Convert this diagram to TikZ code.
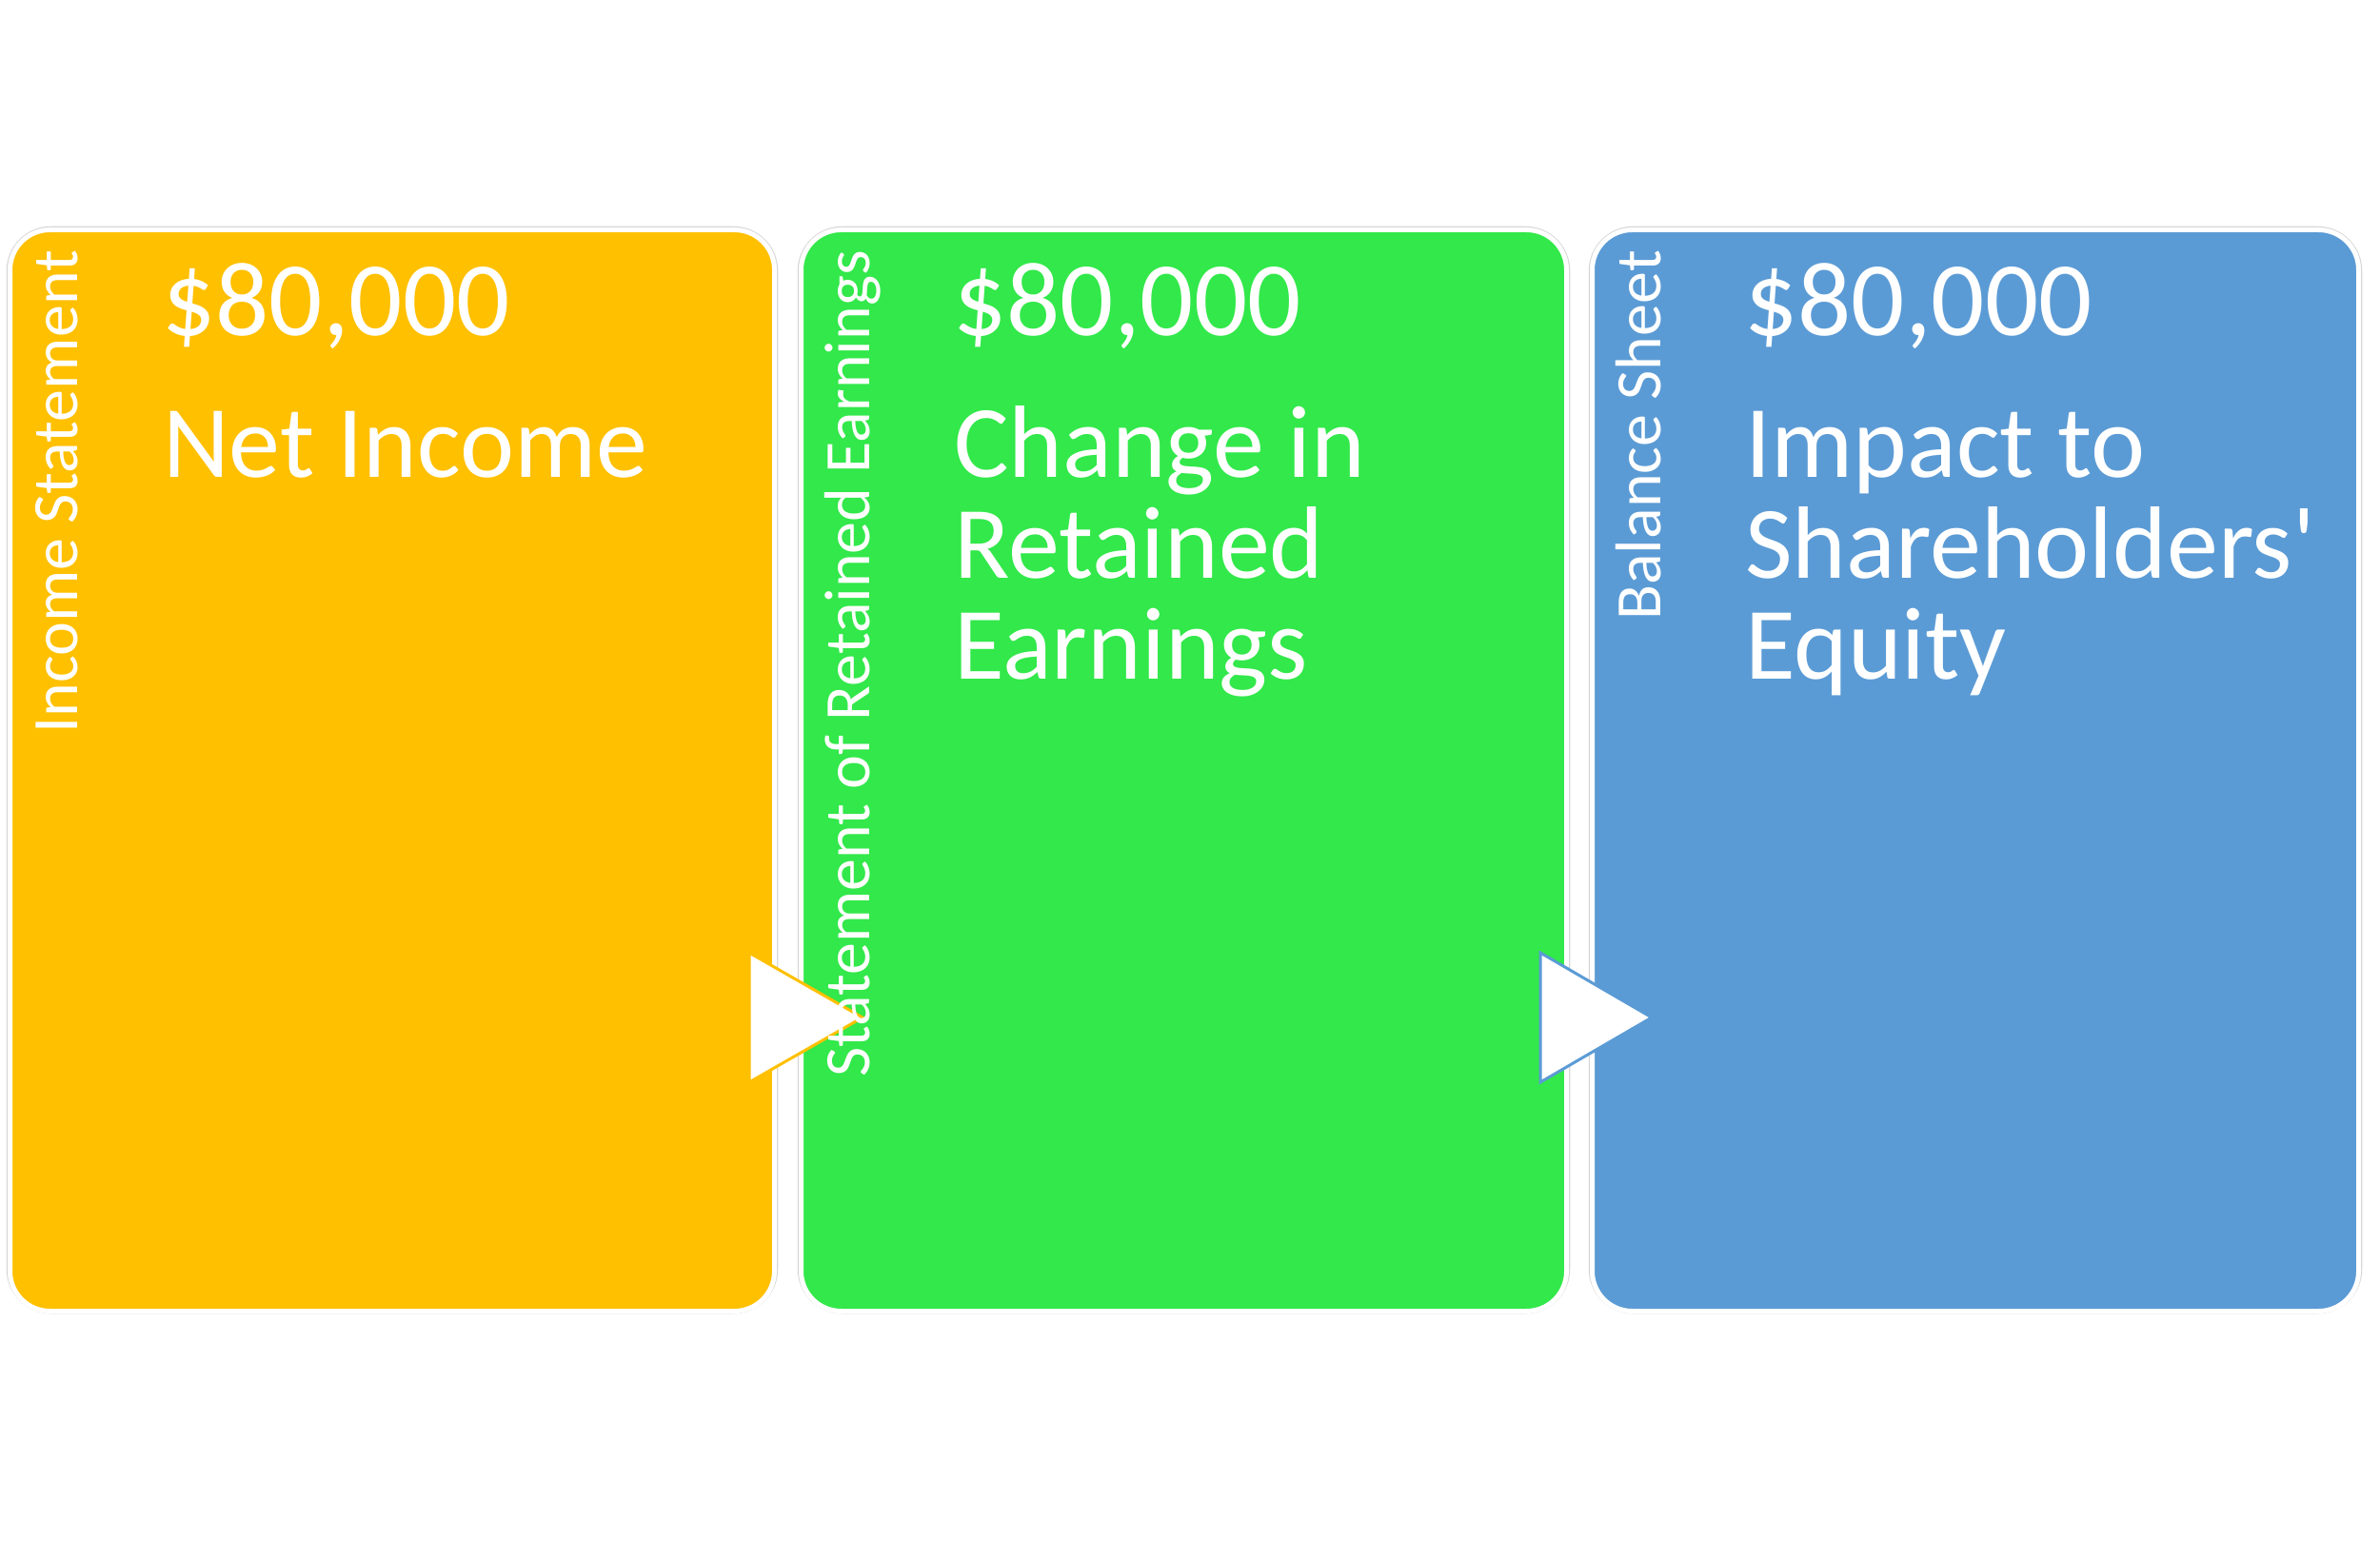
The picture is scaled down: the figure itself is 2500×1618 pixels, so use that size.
\documentclass[tikz,border=0pt]{standalone}
\usepackage{fontspec}
\setmainfont{Carlito}
\definecolor{cyellow}{HTML}{FFC000}
\definecolor{cgreen}{HTML}{32E84A}
\definecolor{cblue}{HTML}{5B9BD5}
\definecolor{cedge}{HTML}{D4D4D4}
\tikzset{
  edgebox/.style={draw=cedge, line width=1.5pt, rounded corners=46pt},
  panel/.style={draw=white, line width=5pt, rounded corners=42pt},
  sidelabel/.style={rotate=90, anchor=base east, inner sep=0pt, text=white,
    font=\fontsize{68}{68}\selectfont},
  bigtext/.style={anchor=base west, inner sep=0pt, text=white,
    font=\fontsize{108}{106}\selectfont},
  valuetext/.style={bigtext, font=\fontsize{111}{106}\selectfont},
  arrowtri/.style={fill=white, line width=3pt, line join=miter}
}
\newcommand{\stack}[1]{\vtop{\lineskiplimit=-200pt\baselineskip=106pt #1}}
\begin{document}
\begin{tikzpicture}[x=1pt,y=1pt]
\useasboundingbox (0,0) rectangle (2500,1618);
% outer faint edges
\draw[edgebox] (7.5,238.5) rectangle (816.5,1379.5);
\draw[edgebox] (838.5,238.5) rectangle (1648.5,1379.5);
\draw[edgebox] (1669.5,238.5) rectangle (2480.5,1379.5);
% panels
\draw[panel, fill=cyellow] (10.5,240.5) rectangle (813.5,1376.5);
\draw[panel, fill=cgreen] (841.5,240.5) rectangle (1645.5,1376.5);
\draw[panel, fill=cblue] (1672.5,240.5) rectangle (2477.5,1376.5);
% arrows
\draw[arrowtri, draw=cyellow] (787,617) -- (906,549) -- (787,481) -- cycle;
\draw[arrowtri, draw=cblue] (1618,617) -- (1735,549) -- (1618,481) -- cycle;
% side labels
\node[sidelabel] (s1) at (81,1355) {Income Statement};
\node[sidelabel] (s2) at (913,1355) {Statement of Retained Earnings};
\node[sidelabel] (s3) at (1744,1355) {Balance Sheet};
% values
\node[valuetext] (v1) at (170,1265) {\$80,000};
\node[valuetext] (v2) at (1001,1265) {\$80,000};
\node[valuetext] (v3) at (1832,1265) {\$80,000};
% captions
\node[bigtext] (c1) at (171,1116) {\stack{\hbox{Net Income}}};
\node[bigtext] (c2) at (1002,1116) {\stack{\hbox{Change in}\hbox{Retained}\hbox{Earnings}}};
\node[bigtext] (c3) at (1833,1116) {\stack{\hbox{Impact to}\hbox{Shareholders\textquotesingle}\hbox{Equity}}};
\end{tikzpicture}
\end{document}
